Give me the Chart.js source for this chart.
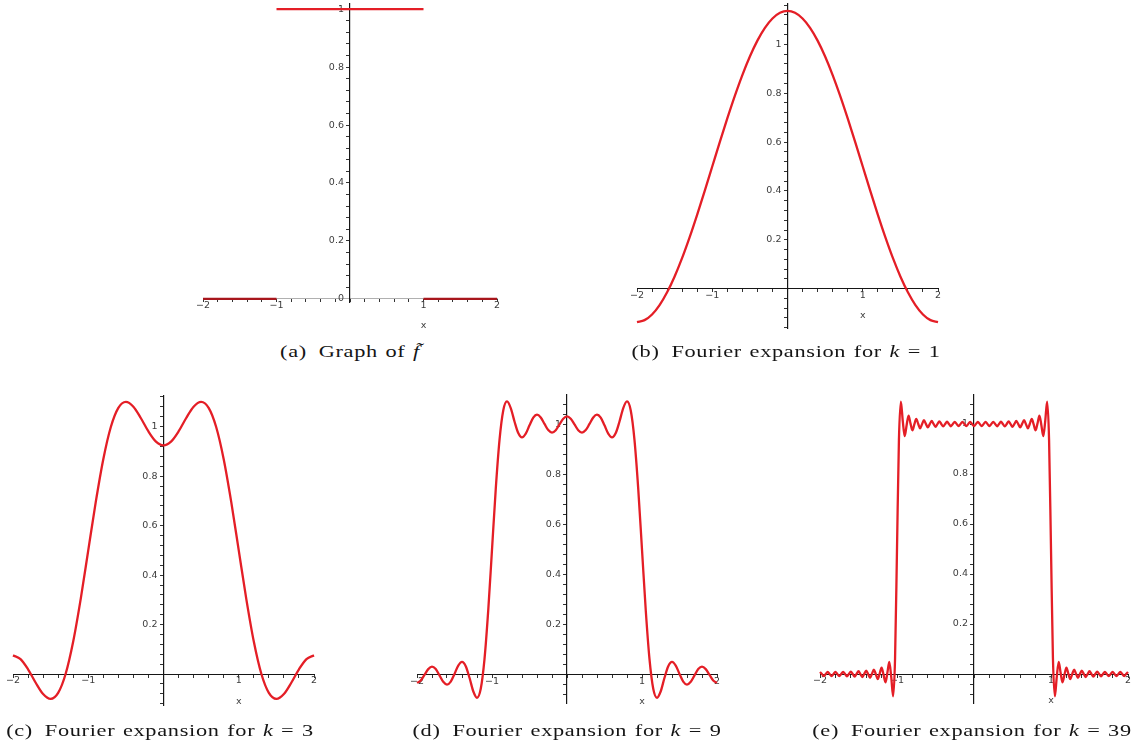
<!DOCTYPE html>
<html>
<head>
<meta charset="utf-8">
<script src="https://cdn.jsdelivr.net/npm/chart.js@4.4.1/dist/chart.umd.min.js"></script>
<style>
  html, body { margin: 0; padding: 0; background: #fff; }
  body { width: 1137px; height: 747px; position: relative; overflow: hidden; }
  canvas { position: absolute; }
  .cap {
    position: absolute; white-space: nowrap; line-height: 1;
    font-family: "Liberation Serif", "DejaVu Serif", serif; font-size: 16.5px; color: #151515;
    letter-spacing: 0.5px; word-spacing: 1px;
    transform-origin: 50% 50%;
  }
</style>
</head>
<body>
<canvas id="pa"></canvas>
<canvas id="pb"></canvas>
<canvas id="pc"></canvas>
<canvas id="pd"></canvas>
<canvas id="pe"></canvas>
<div class="cap" id="capA">(a)&ensp;Graph of <i>f&#771;</i></div>
<div class="cap" id="capB">(b)&ensp;Fourier expansion for <i>k</i> = 1</div>
<div class="cap" id="capC">(c)&ensp;Fourier expansion for <i>k</i> = 3</div>
<div class="cap" id="capD">(d)&ensp;Fourier expansion for <i>k</i> = 9</div>
<div class="cap" id="capE">(e)&ensp;Fourier expansion for <i>k</i> = 39</div>
<script>
// ---- sample positions ----
const xs10 = [
  -2, -1.9, -1.8, -1.7, -1.6, -1.5, -1.4, -1.3, -1.2, -1.1,
  -1, -0.9, -0.8, -0.7, -0.6, -0.5, -0.4, -0.3, -0.2, -0.1,
  0,
  0.1, 0.2, 0.3, 0.4, 0.5, 0.6, 0.7, 0.8, 0.9, 1,
  1.1, 1.2, 1.3, 1.4, 1.5, 1.6, 1.7, 1.8, 1.9, 2
];
const xs20 = [
  -2, -1.95, -1.9, -1.85, -1.8, -1.75, -1.7, -1.65, -1.6, -1.55,
  -1.5, -1.45, -1.4, -1.35, -1.3, -1.25, -1.2, -1.15, -1.1, -1.05,
  -1, -0.95, -0.9, -0.85, -0.8, -0.75, -0.7, -0.65, -0.6, -0.55,
  -0.5, -0.45, -0.4, -0.35, -0.3, -0.25, -0.2, -0.15, -0.1, -0.05,
  0,
  0.05, 0.1, 0.15, 0.2, 0.25, 0.3, 0.35, 0.4, 0.45, 0.5,
  0.55, 0.6, 0.65, 0.7, 0.75, 0.8, 0.85, 0.9, 0.95, 1,
  1.05, 1.1, 1.15, 1.2, 1.25, 1.3, 1.35, 1.4, 1.45, 1.5,
  1.55, 1.6, 1.65, 1.7, 1.75, 1.8, 1.85, 1.9, 1.95, 2
];
const xs40 = [
  -2, -1.975, -1.95, -1.925, -1.9, -1.875, -1.85, -1.825,
  -1.8, -1.775, -1.75, -1.725, -1.7, -1.675, -1.65, -1.625,
  -1.6, -1.575, -1.55, -1.525, -1.5, -1.475, -1.45, -1.425,
  -1.4, -1.375, -1.35, -1.325, -1.3, -1.275, -1.25, -1.225,
  -1.2, -1.175, -1.15, -1.125, -1.1, -1.075, -1.05, -1.025,
  -1, -0.975, -0.95, -0.925, -0.9, -0.875, -0.85, -0.825,
  -0.8, -0.775, -0.75, -0.725, -0.7, -0.675, -0.65, -0.625,
  -0.6, -0.575, -0.55, -0.525, -0.5, -0.475, -0.45, -0.425,
  -0.4, -0.375, -0.35, -0.325, -0.3, -0.275, -0.25, -0.225,
  -0.2, -0.175, -0.15, -0.125, -0.1, -0.075, -0.05, -0.025,
  0,
  0.025, 0.05, 0.075, 0.1, 0.125, 0.15, 0.175, 0.2,
  0.225, 0.25, 0.275, 0.3, 0.325, 0.35, 0.375, 0.4,
  0.425, 0.45, 0.475, 0.5, 0.525, 0.55, 0.575, 0.6,
  0.625, 0.65, 0.675, 0.7, 0.725, 0.75, 0.775, 0.8,
  0.825, 0.85, 0.875, 0.9, 0.925, 0.95, 0.975, 1,
  1.025, 1.05, 1.075, 1.1, 1.125, 1.15, 1.175, 1.2,
  1.225, 1.25, 1.275, 1.3, 1.325, 1.35, 1.375, 1.4,
  1.425, 1.45, 1.475, 1.5, 1.525, 1.55, 1.575, 1.6,
  1.625, 1.65, 1.675, 1.7, 1.725, 1.75, 1.775, 1.8,
  1.825, 1.85, 1.875, 1.9, 1.925, 1.95, 1.975, 2
];

// ---- (a) the function itself: 0 on the outer pieces, 1 on [-1, 1] ----
const stepX    = [-2, -1, -1, 1, 1, 2];
const stepLowY = [0, 0, null, null, 0, 0];
const stepTopY = [null, null, 1, 1, null, null];

// ---- (b) k = 1 ----
const fourier1 = [
  -0.1366, -0.1288, -0.1055, -0.0672, -0.0150, 0.0498, 0.1258, 0.2110, 0.3033, 0.4004,
  0.5000, 0.5996, 0.6967, 0.7890, 0.8742, 0.9502, 1.0150, 1.0672, 1.1055, 1.1288,
  1.1366,
  1.1288, 1.1055, 1.0672, 1.0150, 0.9502, 0.8742, 0.7890, 0.6967, 0.5996, 0.5000,
  0.4004, 0.3033, 0.2110, 0.1258, 0.0498, -0.0150, -0.0672, -0.1055, -0.1288, -0.1366
];

// ---- (c) k = 3 ----
const fourier3 = [
  0.0756, 0.0603, 0.0193, -0.0340, -0.0806, -0.1002, -0.0760, 0.0014, 0.1316, 0.3041,
  0.5000, 0.6959, 0.8684, 0.9986, 1.0760, 1.1002, 1.0806, 1.0340, 0.9807, 0.9397,
  0.9244,
  0.9397, 0.9807, 1.0340, 1.0806, 1.1002, 1.0760, 0.9986, 0.8684, 0.6959, 0.5000,
  0.3041, 0.1316, 0.0014, -0.0760, -0.1002, -0.0806, -0.0340, 0.0193, 0.0603, 0.0756
];

// ---- (d) k = 9 ----
const fourier9 = [
  -0.0315, -0.0222, 0.0005, 0.0231, 0.0331, 0.0234, -0.0017, -0.0275, -0.0386, -0.0266,
  0.0041, 0.0372, 0.0520, 0.0349, -0.0114, -0.0650, -0.0912, -0.0551, 0.0631, 0.2583,
  0.5000, 0.7417, 0.9369, 1.0551, 1.0912, 1.0650, 1.0114, 0.9651, 0.9480, 0.9628,
  0.9959, 1.0266, 1.0386, 1.0275, 1.0017, 0.9769, 0.9669, 0.9766, 0.9995, 1.0222,
  1.0315,
  1.0222, 0.9995, 0.9766, 0.9669, 0.9769, 1.0017, 1.0275, 1.0386, 1.0266, 0.9959,
  0.9628, 0.9480, 0.9651, 1.0114, 1.0650, 1.0912, 1.0551, 0.9369, 0.7417, 0.5000,
  0.2583, 0.0631, -0.0551, -0.0912, -0.0650, -0.0114, 0.0349, 0.0520, 0.0372, 0.0041,
  -0.0266, -0.0386, -0.0275, -0.0017, 0.0234, 0.0331, 0.0231, 0.0005, -0.0222, -0.0315
];

// ---- (e) k = 39 ----
const fourier39 = [
  0.0080, 0.0000, -0.0080, 0.0000, 0.0081, 0.0000, -0.0082, 0.0000,
  0.0084, 0.0000, -0.0086, 0.0000, 0.0089, 0.0000, -0.0093, 0.0000,
  0.0098, 0.0000, -0.0105, 0.0003, 0.0112, -0.0003, -0.0120, 0.0004,
  0.0135, -0.0006, -0.0152, 0.0008, 0.0174, -0.0011, -0.0206, 0.0016,
  0.0255, -0.0025, -0.0334, 0.0047, 0.0488, -0.0118, -0.0896, 0.0637,
  0.5000, 0.9363, 1.0896, 1.0118, 0.9512, 0.9953, 1.0334, 1.0025,
  0.9745, 0.9984, 1.0206, 1.0011, 0.9826, 0.9992, 1.0152, 1.0006,
  0.9865, 0.9996, 1.0120, 1.0003, 0.9888, 0.9997, 1.0105, 1.0000,
  0.9902, 1.0000, 1.0093, 1.0000, 0.9911, 1.0000, 1.0086, 1.0000,
  0.9916, 1.0000, 1.0082, 1.0000, 0.9919, 1.0000, 1.0080, 1.0000,
  0.9920,
  1.0000, 1.0080, 1.0000, 0.9919, 1.0000, 1.0082, 1.0000, 0.9916,
  1.0000, 1.0086, 1.0000, 0.9911, 1.0000, 1.0093, 1.0000, 0.9902,
  1.0000, 1.0105, 0.9997, 0.9888, 1.0003, 1.0120, 0.9996, 0.9865,
  1.0006, 1.0152, 0.9992, 0.9826, 1.0011, 1.0206, 0.9984, 0.9745,
  1.0025, 1.0334, 0.9953, 0.9512, 1.0118, 1.0896, 0.9363, 0.5000,
  0.0637, -0.0896, -0.0118, 0.0488, 0.0047, -0.0334, -0.0025, 0.0255,
  0.0016, -0.0206, -0.0011, 0.0174, 0.0008, -0.0152, -0.0006, 0.0135,
  0.0004, -0.0120, -0.0003, 0.0112, 0.0003, -0.0105, 0.0000, 0.0098,
  0.0000, -0.0093, 0.0000, 0.0089, 0.0000, -0.0086, 0.0000, 0.0084,
  0.0000, -0.0082, 0.0000, 0.0081, 0.0000, -0.0080, 0.0000, 0.0080
];

// ---- tick labels ----
const xTickValues = [-2, -1, 1, 2];
const xTickLabels = ['\u22122', '\u22121', '1', '2'];
const yTickValues = [0.2, 0.4, 0.6, 0.8, 1];
const yTickLabels = ['0.2', '0.4', '0.6', '0.8', '1'];
const yTickValuesA = [0, 0.2, 0.4, 0.6, 0.8, 1];
const yTickLabelsA = ['0', '0.2', '0.4', '0.6', '0.8', '1'];
const axisName = 'x';
const axisNameAt = 1;

// ---- styling ----
const RED = '#e41e26';
const DARK_RED = '#a8161c';
const AXIS = '#161616';
const TICK_TEXT = '#3c3c3c';
const TICK_SIZE = 9.5;
const PAD = 30;

Chart.defaults.font.family = '"DejaVu Sans", sans-serif';
Chart.defaults.font.size = TICK_SIZE;
Chart.defaults.color = TICK_TEXT;

function lookup(values, labels) {
  return (v) => {
    const i = values.findIndex(t => Math.abs(t - v) < 1e-6);
    return i < 0 ? '' : labels[i];
  };
}

// writes the variable name under the horizontal axis
const axisNamePlugin = {
  id: 'axisName',
  afterDraw(chart) {
    const { ctx, scales: { x, y } } = chart;
    ctx.save();
    ctx.font = TICK_SIZE + 'px "DejaVu Sans", sans-serif';
    ctx.fillStyle = TICK_TEXT;
    ctx.textAlign = 'center';
    ctx.textBaseline = 'middle';
    ctx.fillText(axisName, x.getPixelForValue(axisNameAt), y.getPixelForValue(0) + 27);
    ctx.restore();
  }
};

function panel(id, box, labels, datasets, yVals, yLabs, xAxisColor) {
  const cv = document.getElementById(id);
  cv.width = box.r - box.l + 2 * PAD;
  cv.height = box.b - box.t + 2 * PAD;
  cv.style.left = (box.l - PAD) + 'px';
  cv.style.top = (box.t - PAD) + 'px';
  const yLabel = lookup(yVals, yLabs);
  return new Chart(cv, {
    type: 'line',
    data: { labels, datasets },
    options: {
      responsive: false,
      animation: false,
      devicePixelRatio: 1,
      layout: { padding: PAD },
      events: [],
      plugins: { legend: { display: false }, tooltip: { enabled: false } },
      elements: {
        point: { radius: 0 },
        line: { borderWidth: 2.3, borderColor: RED, fill: false, cubicInterpolationMode: 'monotone', capBezierPoints: true }
      },
      scales: {
        x: {
          type: 'linear', min: -2, max: 2,
          position: { y: 0 },
          ticks: {
            stepSize: 0.2, autoSkip: false, includeBounds: false, maxRotation: 0, padding: 0,
            font: { size: TICK_SIZE, lineHeight: 0.8 },
            callback: lookup(xTickValues, xTickLabels)
          },
          grid: { drawOnChartArea: false, drawTicks: true, tickLength: 3, color: '#333', lineWidth: 1 },
          border: { display: true, color: xAxisColor || AXIS, width: 1 }
        },
        y: {
          type: 'linear', min: box.ymin, max: box.ymax,
          position: { x: 0 },
          ticks: {
            stepSize: 0.04, autoSkip: false, includeBounds: false, padding: 0,
            font: { size: TICK_SIZE },
            // trailing spaces keep the right-aligned labels clear of the axis line
            callback: (v) => { const s = yLabel(v); return s ? s + '  ' : ''; }
          },
          grid: { drawOnChartArea: false, drawTicks: true, tickLength: 3, color: '#333', lineWidth: 1 },
          border: { display: true, color: AXIS, width: 1.2 }
        }
      }
    },
    plugins: [axisNamePlugin]
  });
}

function curve(data) {
  return { data, borderColor: RED, clip: 6 };
}

panel('pa', { l: 203, r: 497, t: 4, b: 302, ymin: -0.011, ymax: 1.018 }, stepX, [
  { data: stepLowY, borderColor: DARK_RED, spanGaps: false, clip: 6 },
  { data: stepTopY, borderColor: RED, spanGaps: false, clip: 6 }
], yTickValuesA, yTickLabelsA, '#b0b0b0');

panel('pb', { l: 637, r: 938, t: 4, b: 328, ymin: -0.161, ymax: 1.165 }, xs10, [curve(fourier1)], yTickValues, yTickLabels);
panel('pc', { l: 13, r: 314, t: 396, b: 705, ymin: -0.125, ymax: 1.124 }, xs10, [curve(fourier3)], yTickValues, yTickLabels);
panel('pd', { l: 417, r: 717, t: 395, b: 703, ymin: -0.112, ymax: 1.117 }, xs20, [curve(fourier9)], yTickValues, yTickLabels);
panel('pe', { l: 820, r: 1128, t: 395, b: 703, ymin: -0.116, ymax: 1.116 }, xs40, [curve(fourier39)], yTickValues, yTickLabels);

// captions: one common horizontal stretch, each centred under its panel
const caps = [
  { id: 'capA', cx: 350, top: 344 },
  { id: 'capB', cx: 785.5, top: 344 },
  { id: 'capC', cx: 160, top: 723 },
  { id: 'capD', cx: 567, top: 723 },
  { id: 'capE', cx: 972, top: 723 }
];
const stretch = 309 / document.getElementById('capB').getBoundingClientRect().width;
caps.forEach(c => {
  const el = document.getElementById(c.id);
  el.style.left = c.cx + 'px';
  el.style.top = c.top + 'px';
  el.style.transform = 'translateX(-50%) scaleX(' + stretch.toFixed(4) + ')';
});
</script>
</body>
</html>
